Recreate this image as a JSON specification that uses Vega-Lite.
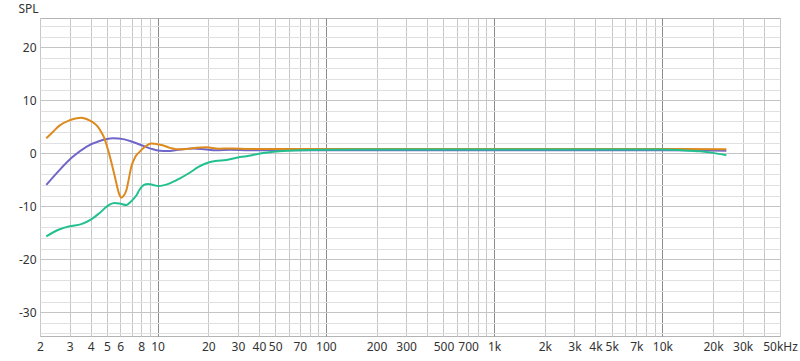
{
  "$schema": "https://vega.github.io/schema/vega-lite/v6.json",
  "autosize": "none",
  "width": 740,
  "height": 318,
  "padding": {"left": 40, "top": 18, "right": 20, "bottom": 25},
  "background": "white",
  "config": {
    "view": {"stroke": "#b4b4b4", "strokeWidth": 1},
    "axis": {"labelFont": "Noto Sans", "labelFontSize": 12, "labelColor": "#333", "titleFont": "Noto Sans", "ticks": false, "domain": false}
  },
  "data": {"values": [
    {"f": 2.18, "spl": -6.0, "s": "p"},
    {"f": 2.61, "spl": -3.2, "s": "p"},
    {"f": 3.13, "spl": -0.7, "s": "p"},
    {"f": 3.77, "spl": 1.2, "s": "p"},
    {"f": 4.52, "spl": 2.3, "s": "p"},
    {"f": 5.42, "spl": 2.8, "s": "p"},
    {"f": 6.35, "spl": 2.6, "s": "p"},
    {"f": 7.13, "spl": 2.1, "s": "p"},
    {"f": 8.18, "spl": 1.4, "s": "p"},
    {"f": 9.2, "spl": 0.8, "s": "p"},
    {"f": 10.3, "spl": 0.45, "s": "p"},
    {"f": 11.5, "spl": 0.4, "s": "p"},
    {"f": 13, "spl": 0.6, "s": "p"},
    {"f": 16.3, "spl": 0.9, "s": "p"},
    {"f": 19, "spl": 0.75, "s": "p"},
    {"f": 22.3, "spl": 0.55, "s": "p"},
    {"f": 27, "spl": 0.65, "s": "p"},
    {"f": 35, "spl": 0.55, "s": "p"},
    {"f": 100, "spl": 0.55, "s": "p"},
    {"f": 1000, "spl": 0.55, "s": "p"},
    {"f": 10000, "spl": 0.55, "s": "p"},
    {"f": 24000, "spl": 0.45, "s": "p"},
    {"f": 2.18, "spl": 2.8, "s": "o"},
    {"f": 2.4, "spl": 4.1, "s": "o"},
    {"f": 2.61, "spl": 5.2, "s": "o"},
    {"f": 3.0, "spl": 6.2, "s": "o"},
    {"f": 3.25, "spl": 6.55, "s": "o"},
    {"f": 3.52, "spl": 6.7, "s": "o"},
    {"f": 3.94, "spl": 6.2, "s": "o"},
    {"f": 4.2, "spl": 5.65, "s": "o"},
    {"f": 4.41, "spl": 5.0, "s": "o"},
    {"f": 4.62, "spl": 4.0, "s": "o"},
    {"f": 4.83, "spl": 2.8, "s": "o"},
    {"f": 5.0, "spl": 1.3, "s": "o"},
    {"f": 5.18, "spl": -0.4, "s": "o"},
    {"f": 5.55, "spl": -4.2, "s": "o"},
    {"f": 5.94, "spl": -7.9, "s": "o"},
    {"f": 6.08, "spl": -8.4, "s": "o"},
    {"f": 6.3, "spl": -8.0, "s": "o"},
    {"f": 6.52, "spl": -7.0, "s": "o"},
    {"f": 6.75, "spl": -4.8, "s": "o"},
    {"f": 6.97, "spl": -2.6, "s": "o"},
    {"f": 7.4, "spl": -0.6, "s": "o"},
    {"f": 7.81, "spl": 0.25, "s": "o"},
    {"f": 8.5, "spl": 1.3, "s": "o"},
    {"f": 9.17, "spl": 1.8, "s": "o"},
    {"f": 10, "spl": 1.7, "s": "o"},
    {"f": 10.7, "spl": 1.5, "s": "o"},
    {"f": 11.8, "spl": 1.0, "s": "o"},
    {"f": 12.9, "spl": 0.75, "s": "o"},
    {"f": 15, "spl": 0.8, "s": "o"},
    {"f": 17, "spl": 1.0, "s": "o"},
    {"f": 19.5, "spl": 1.1, "s": "o"},
    {"f": 23, "spl": 0.85, "s": "o"},
    {"f": 28, "spl": 0.9, "s": "o"},
    {"f": 35, "spl": 0.8, "s": "o"},
    {"f": 100, "spl": 0.8, "s": "o"},
    {"f": 1000, "spl": 0.8, "s": "o"},
    {"f": 10000, "spl": 0.8, "s": "o"},
    {"f": 24000, "spl": 0.75, "s": "o"},
    {"f": 2.18, "spl": -15.7, "s": "t"},
    {"f": 2.6, "spl": -14.4, "s": "t"},
    {"f": 3.0, "spl": -13.8, "s": "t"},
    {"f": 3.52, "spl": -13.4, "s": "t"},
    {"f": 4.03, "spl": -12.5, "s": "t"},
    {"f": 4.52, "spl": -11.3, "s": "t"},
    {"f": 5.18, "spl": -9.7, "s": "t"},
    {"f": 5.55, "spl": -9.4, "s": "t"},
    {"f": 5.94, "spl": -9.5, "s": "t"},
    {"f": 6.52, "spl": -9.8, "s": "t"},
    {"f": 6.9, "spl": -9.2, "s": "t"},
    {"f": 7.47, "spl": -8.0, "s": "t"},
    {"f": 7.81, "spl": -6.9, "s": "t"},
    {"f": 8.3, "spl": -6.0, "s": "t"},
    {"f": 8.76, "spl": -5.8, "s": "t"},
    {"f": 9.4, "spl": -6.0, "s": "t"},
    {"f": 10.1, "spl": -6.2, "s": "t"},
    {"f": 11.8, "spl": -5.7, "s": "t"},
    {"f": 13.5, "spl": -4.8, "s": "t"},
    {"f": 15.5, "spl": -3.7, "s": "t"},
    {"f": 17.5, "spl": -2.6, "s": "t"},
    {"f": 19.5, "spl": -1.9, "s": "t"},
    {"f": 22, "spl": -1.5, "s": "t"},
    {"f": 25.6, "spl": -1.3, "s": "t"},
    {"f": 30, "spl": -0.8, "s": "t"},
    {"f": 33.7, "spl": -0.6, "s": "t"},
    {"f": 40, "spl": -0.1, "s": "t"},
    {"f": 53, "spl": 0.35, "s": "t"},
    {"f": 70, "spl": 0.55, "s": "t"},
    {"f": 100, "spl": 0.65, "s": "t"},
    {"f": 200, "spl": 0.7, "s": "t"},
    {"f": 1000, "spl": 0.7, "s": "t"},
    {"f": 10000, "spl": 0.7, "s": "t"},
    {"f": 13200, "spl": 0.55, "s": "t"},
    {"f": 16700, "spl": 0.35, "s": "t"},
    {"f": 20000, "spl": 0.05, "s": "t"},
    {"f": 24000, "spl": -0.4, "s": "t"}
  ]},
  "mark": {"type": "line", "strokeWidth": 2, "interpolate": "monotone", "clip": true},
  "encoding": {
    "x": {
      "field": "f", "type": "quantitative",
      "scale": {"type": "log", "domain": [2, 50000], "nice": false},
      "axis": {
        "title": null,
        "values": [2,3,4,5,6,7,8,9,10,20,30,40,50,60,70,80,90,100,200,300,400,500,600,700,800,900,1000,2000,3000,4000,5000,6000,7000,8000,9000,10000,20000,30000,40000,50000],
        "labelExpr": "datum.value == 50000 ? '50kHz' : (indexof([2,3,4,5,6,8,10,20,30,40,50,70,100,200,300,500,700,1000,2000,3000,4000,5000,7000,10000,20000,30000], datum.value) >= 0 ? (datum.value >= 1000 ? (datum.value/1000) + 'k' : datum.value + '') : '')",
        "labelOverlap": false,
        "labelFlush": false,
        "labelBound": false,
        "labelPadding": 5,
        "grid": true,
        "gridColor": {"condition": {"test": "datum.value == 10 || datum.value == 100 || datum.value == 1000 || datum.value == 10000", "value": "#8c8c8c"}, "value": "#c8c8c8"},
        "gridWidth": 1
      }
    },
    "y": {
      "field": "spl", "type": "quantitative",
      "scale": {"domain": [-34.5, 25.5], "nice": false, "zero": false},
      "axis": {
        "title": "SPL",
        "titleAngle": 0,
        "titleX": -12,
        "titleY": -10,
        "titleAlign": "center",
        "titleBaseline": "middle",
        "titleFontSize": 12,
        "titleFontWeight": "normal",
        "titleColor": "#333",
        "values": [-34,-32,-30,-28,-26,-24,-22,-20,-18,-16,-14,-12,-10,-8,-6,-4,-2,0,2,4,6,8,10,12,14,16,18,20,22,24],
        "labelExpr": "datum.value % 10 == 0 ? datum.value + '' : ''",
        "labelPadding": 4,
        "labelOverlap": false,
        "grid": true,
        "gridColor": {"condition": {"test": "datum.value % 10 == 0", "value": "#c4c4c4"}, "value": "#e0e0e0"}
      }
    },
    "color": {
      "field": "s", "type": "nominal",
      "scale": {"domain": ["p", "o", "t"], "range": ["#7066c9", "#dd8a1f", "#22c08f"]},
      "legend": null
    }
  }
}
